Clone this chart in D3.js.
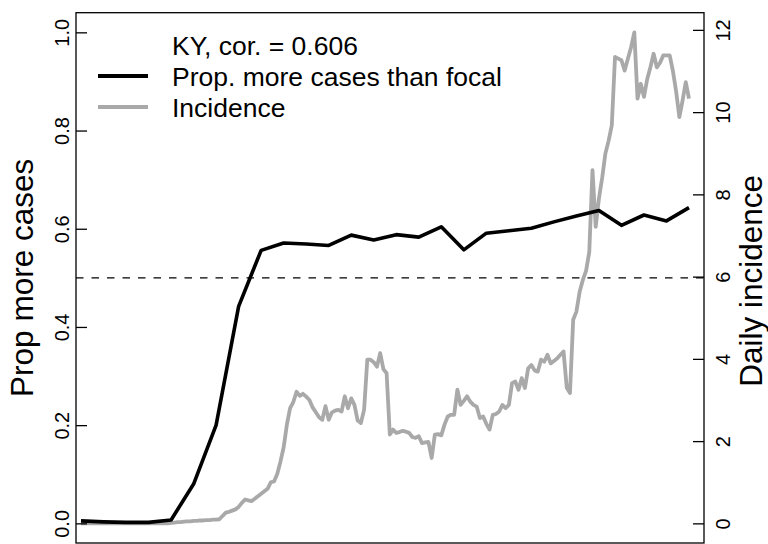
<!DOCTYPE html>
<html>
<head>
<meta charset="utf-8">
<script src="https://cdn.jsdelivr.net/npm/d3@7"></script>
<style>
  html, body { margin: 0; padding: 0; background: #fff; }
  svg { display: block; }
  text { font-family: "Liberation Sans", Arial, Helvetica, sans-serif; fill: #000; }
</style>
</head>
<body>
<svg id="chart" width="768" height="544"></svg>
<script>
// ---- data ----
// weekly proportion of counties with more cases than focal (day index = 7*k)
const propWeeks = d3.range(0, 28).map(k => k * 7);
const propValues = [0.005, 0.003, 0.002, 0.002, 0.007, 0.08, 0.2, 0.442, 0.556, 0.571,
  0.569, 0.566, 0.587, 0.577, 0.588, 0.583, 0.604, 0.557, 0.591, 0.596,
  0.601, 0.614, 0.626, 0.637, 0.607, 0.628, 0.616, 0.643];

// daily incidence (day 0..189)
const incidenceValues = [
  0,0,0,0,0,0,0,0,0,0,
  0,0,0,0,0,0,0,0,0,0,
  0,0,0,0,0,0,0,0,0.01,0.02,
  0.03,0.03,0.04,0.05,0.05,0.06,0.06,0.07,0.07,0.08,
  0.08,0.09,0.09,0.1,0.18,0.26,0.28,0.31,0.34,0.40,
  0.50,0.58,0.56,0.54,0.60,0.66,0.72,0.78,0.84,1.0,
  1.02,1.2,1.5,1.85,2.4,2.8,2.95,3.2,3.1,3.15,
  3.08,3.0,2.82,2.7,2.58,2.52,2.85,2.52,2.7,2.74,
  2.76,2.72,3.09,2.8,3.04,2.88,2.5,2.44,2.76,3.98,
  3.98,3.92,3.81,4.14,3.75,3.65,2.16,2.28,2.2,2.22,
  2.25,2.23,2.2,2.1,2.08,2.12,1.95,1.97,1.98,1.59,
  2.16,2.17,2.14,2.4,2.6,2.64,2.64,3.25,2.88,2.98,
  3.09,2.96,2.88,2.84,2.56,2.6,2.42,2.28,2.64,2.66,
  2.72,2.88,2.8,2.88,3.41,3.45,3.25,3.53,3.29,3.77,
  3.85,3.72,3.69,3.98,3.93,4.1,3.89,3.95,4.01,4.1,
  4.18,3.3,3.17,4.95,5.15,5.63,5.92,6.14,6.6,8.59,
  7.21,7.9,8.4,8.99,9.3,9.68,11.34,11.3,11.26,11.01,
  11.3,11.58,11.94,10.33,10.69,10.37,10.8,11.09,11.42,11.09,
  11.2,11.38,11.38,11.38,11.0,10.5,9.88,10.28,10.73,10.33
];
const incidenceDays = d3.range(0, incidenceValues.length);

const leftTicks = [0, 0.2, 0.4, 0.6, 0.8, 1.0];
const rightTicks = [0, 2, 4, 6, 8, 10, 12];
const thresholdValue = 0.5;
const leftTitle = "Prop more cases";
const rightTitle = "Daily incidence";
const legendHeader = "KY, cor. = 0.606";
const legendLabels = ["Prop. more cases than focal", "Incidence"];
const legendColors = ["#000000", "#A9A9A9"];

// ---- layout ----
const box = { left: 76, right: 704, top: 12.7, bottom: 543 };
const svg = d3.select("#chart");

const x = d3.scaleLinear().domain([0, 189]).range([81, 689]);
const padL = 0.04;
const yL = d3.scaleLinear().domain([0 - padL, 1 + padL]).range([box.bottom, box.top]);
const incMax = d3.max(incidenceValues);
const yR = d3.scaleLinear().domain([-0.04 * incMax, incMax * 1.04]).range([box.bottom, box.top]);

// threshold dashed line
svg.append("line")
  .attr("x1", box.left).attr("x2", box.right)
  .attr("y1", yL(thresholdValue)).attr("y2", yL(thresholdValue))
  .attr("stroke", "#000").attr("stroke-width", 1.4)
  .attr("stroke-dasharray", "7.5,8");

// incidence line (gray)
const lineInc = d3.line().x((d, i) => x(incidenceDays[i])).y(d => yR(d));
svg.append("path")
  .datum(incidenceValues)
  .attr("d", lineInc)
  .attr("fill", "none")
  .attr("stroke", legendColors[1])
  .attr("stroke-width", 3.8)
  .attr("stroke-linejoin", "round");

// prop line (black)
const lineProp = d3.line().x((d, i) => x(propWeeks[i])).y(d => yL(d));
svg.append("path")
  .datum(propValues)
  .attr("d", lineProp)
  .attr("fill", "none")
  .attr("stroke", legendColors[0])
  .attr("stroke-width", 3.6)
  .attr("stroke-linejoin", "round");

// box
svg.append("rect")
  .attr("x", box.left).attr("y", box.top)
  .attr("width", box.right - box.left).attr("height", box.bottom - box.top)
  .attr("fill", "none").attr("stroke", "#000").attr("stroke-width", 1.3);

// left axis (ticks inward)
const gL = svg.append("g").attr("transform", `translate(${box.left},0)`)
  .call(d3.axisLeft(yL).tickValues(leftTicks).tickFormat(d3.format(".1f"))
    .tickSizeInner(-11).tickSizeOuter(0));
gL.select(".domain").remove();
gL.selectAll(".tick line").attr("stroke", "#000").attr("stroke-width", 1.3);
gL.selectAll(".tick text")
  .attr("x", null).attr("dy", null).attr("y", null)
  .attr("text-anchor", "middle")
  .attr("transform", "translate(-7.5,0) rotate(-90)")
  .style("font-size", "20px")
  .style("font-family", '"Liberation Sans", Arial, sans-serif');

// right axis (ticks inward)
const gR = svg.append("g").attr("transform", `translate(${box.right},0)`)
  .call(d3.axisRight(yR).tickValues(rightTicks).tickFormat(d3.format("d"))
    .tickSizeInner(-11).tickSizeOuter(0));
gR.select(".domain").remove();
gR.selectAll(".tick line").attr("stroke", "#000").attr("stroke-width", 1.3);
gR.selectAll(".tick text")
  .attr("x", null).attr("dy", null).attr("y", null)
  .attr("text-anchor", "middle")
  .attr("transform", "translate(26,0) rotate(-90)")
  .style("font-size", "20px")
  .style("font-family", '"Liberation Sans", Arial, sans-serif');

// axis titles
svg.append("text")
  .attr("transform", `translate(33,${(box.top + box.bottom) / 2}) rotate(-90)`)
  .attr("text-anchor", "middle")
  .style("font-size", "31.5px")
  .text(leftTitle);
svg.append("text")
  .attr("transform", `translate(762,${(box.top + box.bottom) / 2 + 3}) rotate(-90)`)
  .attr("text-anchor", "middle")
  .style("font-size", "31.5px")
  .text(rightTitle);

// legend
const legend = svg.append("g");
const rowY = [55, 86, 117];
legend.append("text").attr("x", 172).attr("y", rowY[0])
  .style("font-size", "26.5px").text(legendHeader);
legendLabels.forEach((lab, i) => {
  const by = rowY[i + 1];
  legend.append("line")
    .attr("x1", 98).attr("x2", 148)
    .attr("y1", by - 10).attr("y2", by - 10)
    .attr("stroke", legendColors[i]).attr("stroke-width", 4);
  legend.append("text").attr("x", 172).attr("y", by)
    .style("font-size", "26.5px").text(lab);
});
</script>
</body>
</html>
